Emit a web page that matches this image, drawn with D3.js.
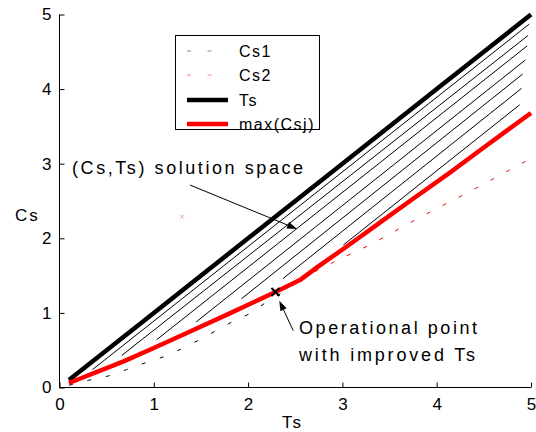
<!DOCTYPE html>
<html>
<head>
<meta charset="utf-8">
<script src="https://cdn.jsdelivr.net/npm/d3@7"></script>
<style>
  body { margin: 0; background: #fff; }
  text { font-family: "Liberation Sans", Arial, sans-serif; fill: #000; }
</style>
</head>
<body>
<svg id="chart" width="536" height="432"></svg>
<script>
// Axis ticks
const xTicks = [0, 1, 2, 3, 4, 5];
const yTicks = [0, 1, 2, 3, 4, 5];

// Ts curve (Cs = Ts)
const tsTs = [0.1, 1, 2, 3, 4, 5];
const tsCs = [0.1, 1, 2, 3, 4, 5];

// Cs1 (black dashed)
const cs1Ts = [0.1, 0.32, 0.52, 0.71, 0.91, 1.1, 1.28, 1.5, 1.83, 2.02, 2.2, 2.4, 2.55, 2.73, 3.08, 3.43, 3.75, 4.14, 4.46, 4.74, 5.0];
const cs1Cs = [0.03, 0.10, 0.155, 0.24, 0.33, 0.41, 0.51, 0.65, 0.88, 0.99, 1.15, 1.30, 1.44, 1.61, 1.92, 2.24, 2.53, 2.88, 3.18, 3.44, 3.68];

// Cs2 (red dashed)
const cs2Ts = [0.1, 0.68, 1.0, 1.35, 1.8, 2.29, 2.55, 2.92, 3.29, 3.82, 4.4, 4.94, 5.0];
const cs2Cs = [0.06, 0.35, 0.53, 0.73, 0.99, 1.28, 1.45, 1.69, 1.91, 2.28, 2.66, 3.03, 3.07];

// max(Csj) (red solid)
const maxTs = [0.1, 0.68, 1.0, 1.35, 1.8, 2.29, 2.55, 2.73, 3.08, 3.43, 3.75, 4.14, 4.46, 4.74, 5.0];
const maxCs = [0.06, 0.35, 0.53, 0.73, 0.99, 1.28, 1.44, 1.61, 1.92, 2.24, 2.53, 2.88, 3.18, 3.44, 3.68];

// Hatching of the (Cs,Ts) solution space: segment start and end points [Ts, Cs]
const hatchStart = [[0.35, 0.24], [0.66, 0.43], [1.03, 0.64], [1.45, 0.88], [1.93, 1.19], [2.37, 1.46], [3.01, 1.91]];
const hatchEnd   = [[4.98, 4.87], [4.97, 4.72], [4.96, 4.58], [4.94, 4.39], [4.91, 4.20], [4.90, 4.01], [4.88, 3.79]];

// Markers
const operPoint = [2.29, 1.28];
const strayPoint = [1.3, 2.29];

const legendLabels = ["Cs1", "Cs2", "Ts", "max(Csj)"];

const svg = d3.select("#chart");
const x = d3.scaleLinear().domain([0, 5]).range([59.5, 531]);
const y = d3.scaleLinear().domain([0, 5]).range([387.5, 14.5]);

const line = d3.line().x(d => x(d[0])).y(d => y(d[1]));
const zip = (a, b) => a.map((v, i) => [v, b[i]]);

// Hatch lines
const hatch = svg.append("g");
hatchStart.forEach((s, i) => {
  hatch.append("path").attr("d", line([s, hatchEnd[i]]))
    .attr("fill", "none").attr("stroke", "#000").attr("stroke-width", 1);
});

// Cs1 and Cs2 dashed curves
svg.append("path").attr("d", line(zip(cs1Ts, cs1Cs)))
  .attr("fill", "none").attr("stroke", "#000").attr("stroke-width", 1)
  .attr("stroke-dasharray", "4,15");
svg.append("path").attr("d", line(zip(cs2Ts, cs2Cs)))
  .attr("fill", "none").attr("stroke", "#ff0000").attr("stroke-width", 1)
  .attr("stroke-dasharray", "4,14");

// Ts and max(Csj) thick curves
svg.append("path").attr("d", line(zip(tsTs, tsCs)))
  .attr("fill", "none").attr("stroke", "#000").attr("stroke-width", 4.5);
svg.append("path").attr("d", line(zip(maxTs, maxCs)))
  .attr("fill", "none").attr("stroke", "#ff0000").attr("stroke-width", 4.5)
  .attr("stroke-linejoin", "round");

// Axes (left and bottom only, ticks inward)
const xAxis = svg.append("g").attr("transform", `translate(0,${y(0)})`)
  .call(d3.axisBottom(x).tickValues(xTicks).tickSize(-5).tickPadding(10).tickFormat(d3.format("d")));
const yAxis = svg.append("g").attr("transform", `translate(${x(0)},0)`)
  .call(d3.axisLeft(y).tickValues(yTicks).tickSize(-5).tickPadding(8).tickFormat(d3.format("d")));
[xAxis, yAxis].forEach(g => {
  g.select(".domain").attr("stroke", "#000").attr("stroke-width", 1);
  g.selectAll(".tick line").attr("stroke", "#000");
  g.selectAll(".tick text").attr("font-size", 17).attr("font-family", "Liberation Sans, Arial, sans-serif").attr("fill", "#000");
});
xAxis.select(".domain").attr("d", `M${x(0)},0H${x(5)}`);
yAxis.select(".domain").attr("d", `M0,${y(0)}V${y(5)}`);

// Axis titles
svg.append("text").attr("x", x(2.47)).attr("y", 428).attr("text-anchor", "middle")
  .attr("font-size", 17).attr("letter-spacing", 2).text("Ts");
svg.append("text").attr("x", 15).attr("y", y(2.30)).attr("dominant-baseline", "central")
  .attr("font-size", 17).attr("letter-spacing", 2).text("Cs");

// Markers
const cross = (p, size, color, width) => {
  const cx = x(p[0]), cy = y(p[1]);
  svg.append("path")
    .attr("d", `M${cx - size},${cy - size}L${cx + size},${cy + size}M${cx - size},${cy + size}L${cx + size},${cy - size}`)
    .attr("stroke", color).attr("stroke-width", width).attr("fill", "none");
};
cross(operPoint, 4, "#000", 2);
cross(strayPoint, 2, "#f4a0a0", 1);

// Annotations with arrows
const arrow = (from, to) => {
  const x1 = x(from[0]), y1 = y(from[1]), x2 = x(to[0]), y2 = y(to[1]);
  const ang = Math.atan2(y2 - y1, x2 - x1), L = 10, W = 3.5;
  const bx = x2 - L * Math.cos(ang), by = y2 - L * Math.sin(ang);
  svg.append("line").attr("x1", x1).attr("y1", y1).attr("x2", bx).attr("y2", by)
    .attr("stroke", "#000").attr("stroke-width", 1);
  svg.append("path")
    .attr("d", `M${x2},${y2}L${bx - W * Math.sin(ang)},${by + W * Math.cos(ang)}L${bx + W * Math.sin(ang)},${by - W * Math.cos(ang)}Z`)
    .attr("fill", "#000");
};
arrow([1.384, 2.714], [2.519, 2.125]);
arrow([2.479, 0.761], [2.331, 1.164]);

svg.append("text").attr("x", x(0.133)).attr("y", y(2.942)).attr("dominant-baseline", "central")
  .attr("font-size", 18).attr("textLength", 231).attr("lengthAdjust", "spacing")
  .text("(Cs,Ts) solution space");
svg.append("text").attr("x", x(2.54)).attr("y", 328).attr("dominant-baseline", "central")
  .attr("font-size", 18).attr("textLength", 178).attr("lengthAdjust", "spacing")
  .text("Operational point");
svg.append("text").attr("x", x(2.54)).attr("y", 355).attr("dominant-baseline", "central")
  .attr("font-size", 18).attr("textLength", 176).attr("lengthAdjust", "spacing")
  .text("with improved Ts");

// Legend
const lg = svg.append("g");
lg.append("rect").attr("x", 175.5).attr("y", 35.5).attr("width", 144).attr("height", 94)
  .attr("fill", "#fff").attr("stroke", "#000").attr("stroke-width", 1);
const legendStyles = [
  { color: "#888", width: 1, dash: "4,16.5" },
  { color: "#ff8080", width: 1, dash: "4,16.5" },
  { color: "#000", width: 4.5, dash: null },
  { color: "#ff0000", width: 4.5, dash: null }
];
const legendY = [51, 75, 100, 124];
legendLabels.forEach((lab, i) => {
  const st = legendStyles[i];
  lg.append("line").attr("x1", 187).attr("x2", 228).attr("y1", legendY[i]).attr("y2", legendY[i])
    .attr("stroke", st.color).attr("stroke-width", st.width)
    .attr("stroke-dasharray", st.dash);
  lg.append("text").attr("x", 239).attr("y", legendY[i]).attr("dominant-baseline", "central")
    .attr("font-size", 16).attr("letter-spacing", 1.5).text(lab);
});
</script>
</body>
</html>
